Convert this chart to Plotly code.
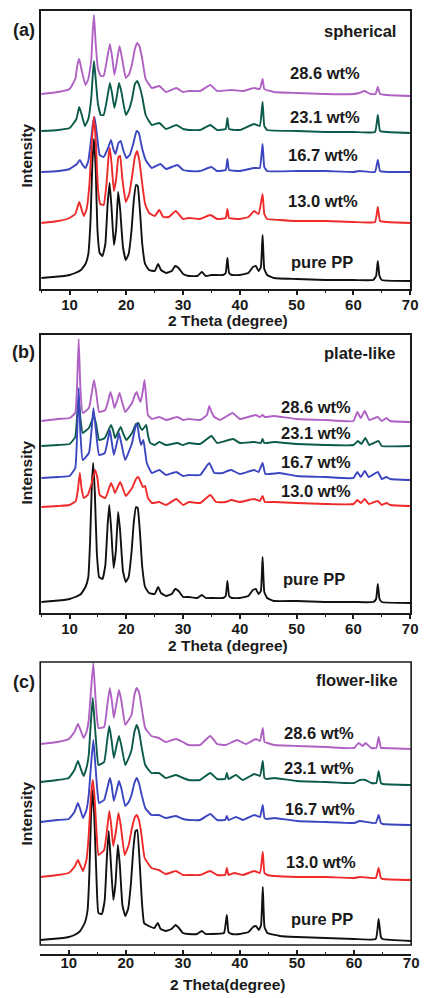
import plotly.graph_objects as go

# ---------------- data (2 theta in degree, intensity in arbitrary units, offsets included) ----------
LABELS = ["pure PP", "13.0 wt%", "16.7 wt%", "23.1 wt%", "28.6 wt%"]
SHAPES = ["spherical", "plate-like", "flower-like"]
PANEL_TAGS = ["(a)", "(b)", "(c)"]
X_TICKS = [10, 20, 30, 40, 50, 60, 70]
COLORS = ["#111111", "#ee2a2a", "#3c46c0", "#0b5a4a", "#b062c4"]

# ---- (a) spherical
A_PURE = [(5,11),(7,12),(9,13),(10,14),(11,16),(12,19),(12.8,25),(13.3,35),(13.7,70),(14.0,125),(14.3,150),(14.6,120),(14.9,60),(15.3,36),(15.8,33),(16.3,45),(16.7,85),(17.05,106),(17.4,80),(17.8,44),(18.2,60),(18.55,97),(18.9,80),(19.4,42),(19.9,29),(20.4,35),(20.9,58),(21.3,88),(21.7,104),(22.0,103),(22.4,78),(22.8,45),(23.3,25),(24.0,19),(25.0,18),(25.6,25),(26.1,19),(27.0,16),(28.0,18),(28.6,23),(29.2,21),(30,15),(31,13),(32.5,13),(33.3,17),(34,13),(35,14),(37,14),(37.5,16),(37.8,31),(38.1,16),(38.6,14),(40,14),(41.5,16),(42.3,22),(42.8,23),(43.3,18),(43.7,22),(44.0,54),(44.3,20),(44.8,14),(46,11),(50,10),(55,9),(60,9),(63.5,9),(64.0,13),(64.3,28),(64.6,13),(65,9),(70,8)]
A_130 = [(5,66),(8,68),(10,71),(11.0,75),(11.4,82),(11.7,87),(12.0,82),(12.5,73),(13.0,80),(13.5,105),(13.9,145),(14.25,172),(14.6,150),(15.0,100),(15.4,85),(16.0,84),(16.5,105),(16.9,135),(17.1,141),(17.4,125),(17.8,98),(18.2,110),(18.6,132),(18.9,133),(19.3,110),(19.9,87),(20.5,95),(21.0,112),(21.5,132),(21.9,138),(22.3,128),(22.8,105),(23.3,85),(24,76),(25,73),(25.8,79),(26.5,72),(27.5,72),(28.7,78),(29.5,73),(30,70),(31,71),(33,70),(34.8,74),(36,70),(37.5,71),(37.8,80),(38.1,71),(40,70),(41.5,72),(42.5,78),(43.3,75),(44.0,95),(44.3,75),(44.8,70),(47,69),(50,68),(55,68),(60,67),(63.8,67),(64.3,82),(64.7,68),(66,67),(70,66)]
A_167 = [(5,117),(8,118),(10,120),(11.3,125),(11.8,129),(12.3,124),(12.8,121),(13.3,128),(13.8,150),(14.1,165),(14.4,172),(14.8,155),(15.3,134),(16.0,132),(16.7,140),(17.3,149),(17.7,140),(18.1,135),(18.6,146),(19.0,148),(19.5,138),(20.0,131),(20.6,134),(21.2,145),(21.8,158),(22.2,156),(22.8,140),(23.5,128),(24.5,121),(26.0,125),(27.0,120),(29.0,124),(30,119),(31,118),(33,118),(35,122),(36,118),(37.5,119),(37.8,130),(38.1,119),(40,118),(42.5,121),(43.5,121),(44.0,145),(44.3,122),(44.8,118),(50,118),(55,118),(60,117),(61,118),(63.8,117),(64.3,129),(64.7,118),(66,117),(70,117)]
A_231 = [(5,158),(8,159),(10,161),(11.2,170),(11.7,182),(12.1,175),(12.7,163),(13.3,170),(13.8,190),(14.1,215),(14.3,228),(14.6,210),(15.0,185),(15.5,174),(16.0,174),(16.6,190),(17.1,206),(17.5,195),(17.9,181),(18.3,192),(18.7,206),(19.1,198),(19.9,174),(20.5,180),(21.0,190),(21.5,205),(21.9,208),(22.3,203),(22.8,192),(23.4,174),(24.5,164),(25.8,166),(27,160),(28.8,164),(30,160),(31,159),(33,159),(34.8,164),(36,159),(37.5,160),(37.8,171),(38.1,160),(40,159),(42.5,165),(43.5,163),(44.0,187),(44.3,163),(44.8,159),(50,158),(55,157),(60,157),(63.8,157),(64.3,174),(64.7,158),(66,157),(70,156)]
A_286 = [(5,195),(8,197),(10,200),(11.0,210),(11.4,225),(11.7,230),(12.0,222),(12.8,204),(13.3,210),(13.8,228),(14.1,260),(14.3,274),(14.6,245),(15.0,220),(15.5,213),(16.0,213),(16.6,230),(17.1,245),(17.5,232),(17.9,214),(18.4,230),(18.8,243),(19.2,232),(19.9,211),(20.5,215),(21.0,225),(21.5,240),(21.9,246),(22.3,243),(22.8,230),(23.4,210),(24.5,201),(25.8,203),(27,197),(28.8,201),(30,197),(31,198),(33,198),(34.8,204),(36,198),(38.5,199),(40.5,198),(42.5,201),(43.5,200),(44.0,210),(44.3,200),(46,197),(50,196),(55,195),(60,195),(61,196),(62,198),(63,195),(63.9,195),(64.3,202),(64.7,195),(66,194),(70,193)]

# ---- (b) plate-like
B_PURE = [(5,11),(7,12),(9,13),(10,14),(11,16),(12,19),(12.8,26),(13.3,36),(13.6,70),(13.9,125),(14.15,150),(14.45,120),(14.8,60),(15.2,36),(15.8,34),(16.3,48),(16.7,88),(17.0,108),(17.35,82),(17.75,45),(18.15,62),(18.55,101),(18.9,82),(19.4,42),(19.9,31),(20.4,36),(20.9,60),(21.3,90),(21.7,106),(22.0,105),(22.4,80),(22.8,46),(23.3,26),(24,20),(25,19),(25.6,26),(26.1,20),(27,17),(28,19),(28.6,24),(29.2,22),(30,16),(31,16),(32.5,15),(33.3,18),(34,15),(35,15),(37,15),(37.5,17),(37.8,32),(38.1,17),(38.6,15),(40,15),(41.5,17),(42.3,23),(42.8,24),(43.3,19),(43.7,22),(44.0,56),(44.3,21),(44.8,15),(46,12),(50,12),(55,11),(60,11),(63.5,11),(64.0,14),(64.3,29),(64.6,14),(65,11),(70,10)]
B_130 = [(5,106),(8,107),(10,108),(11.1,112),(11.5,125),(11.8,140),(12.1,125),(12.5,115),(13.2,118),(13.8,128),(14.5,143),(14.9,135),(15.3,118),(16.3,115),(17.3,130),(17.7,125),(18.0,120),(18.9,131),(19.3,126),(19.9,117),(21.0,125),(21.7,134),(22.1,136),(22.6,130),(22.9,126),(23.3,127),(23.8,115),(24.5,110),(25.8,111),(27,108),(28.8,114),(30,108),(31,111),(33,110),(34.8,118),(35.8,111),(37.5,111),(38.5,113),(40,111),(42.5,114),(43.5,112),(44.0,117),(44.4,111),(46,111),(50,110),(55,109),(60,109),(60.7,113),(61.3,110),(62.0,114),(62.7,109),(64.3,112),(65,108),(65.8,110),(66.5,108),(70,107)]
B_167 = [(5,135),(8,136),(10,137),(11.0,145),(11.3,175),(11.6,225),(11.9,180),(12.3,153),(13.4,160),(13.9,185),(14.2,205),(14.6,185),(15.2,158),(16.2,160),(16.8,175),(17.1,183),(17.4,172),(17.8,158),(18.4,172),(18.7,180),(19.1,170),(19.8,153),(21.0,170),(21.6,186),(21.9,189),(22.3,175),(22.6,168),(23.0,173),(23.3,162),(23.6,150),(24.5,140),(25.8,143),(27,138),(28.8,141),(30,137),(31,138),(33,138),(34.6,150),(35.5,140),(37,140),(37.8,142),(38.5,143),(40,139),(42.5,143),(43.3,141),(44.0,150),(44.5,139),(47,140),(50,137),(55,136),(60,135),(60.7,141),(61.3,136),(62.0,142),(62.7,136),(64.3,141),(65,134),(65.8,136),(66.5,134),(70,133)]
B_231 = [(5,167),(8,168),(10,169),(11.0,176),(11.3,195),(11.6,215),(11.9,195),(12.3,180),(13.4,185),(13.9,192),(14.3,197),(14.7,188),(15.2,173),(16.2,175),(17.3,188),(17.7,182),(18.0,175),(19.0,186),(19.4,180),(20,173),(21.0,180),(21.7,189),(22.1,190),(22.5,185),(22.8,183),(23.5,188),(23.8,178),(24.2,170),(25,168),(25.8,171),(27,168),(29,170),(30,168),(31,170),(33,169),(35,177),(36,170),(38.8,174),(40,170),(42.5,171),(43.7,170),(44.0,174),(44.3,170),(46,171),(50,169),(55,168),(60,168),(60.8,172),(61.4,169),(62.1,175),(62.8,168),(64.4,172),(65,167),(70,167)]
B_286 = [(5,192),(8,194),(10,195),(11.0,200),(11.3,225),(11.6,274),(11.9,225),(12.3,200),(13.4,205),(13.9,220),(14.3,233),(14.7,220),(15.2,201),(16.3,203),(16.8,212),(17.2,221),(17.6,213),(17.9,205),(18.4,213),(18.8,220),(19.2,212),(19.8,201),(21.0,210),(21.5,218),(21.8,221),(22.2,215),(22.5,211),(22.9,222),(23.2,233),(23.5,215),(23.8,198),(24.5,194),(25.8,196),(27,193),(29,196),(30,193),(31,194),(33,193),(34.2,198),(34.6,207),(35.0,201),(35.5,196),(36.5,193),(38.7,200),(40,194),(42.8,198),(43.5,196),(44.0,198),(44.4,196),(46,197),(50,194),(55,193),(60,192),(60.7,201),(61.3,195),(62.0,202),(62.8,193),(64.3,196),(65,192),(65.8,195),(66.5,192),(70,191)]

# ---- (c) flower-like
C_PURE = [(5,5),(7,6),(9,7),(10,8),(11,10),(12,14),(12.8,22),(13.3,35),(13.6,70),(13.9,130),(14.2,155),(14.5,125),(14.9,60),(15.2,32),(15.8,31),(16.3,45),(16.7,90),(17.0,114),(17.35,85),(17.8,45),(18.2,62),(18.6,100),(18.95,80),(19.4,40),(19.9,29),(20.4,36),(20.9,62),(21.3,95),(21.7,114),(22.0,115),(22.4,85),(22.8,45),(23.2,22),(24,19),(25,17),(25.6,22),(26.1,16),(27,14),(28,16),(28.7,20),(29.3,17),(30,12),(31,11),(32.5,11),(33.3,14),(34,11),(35,11),(37.2,12),(37.7,30),(38.0,13),(38.6,11),(40,11),(41.5,13),(42.3,18),(42.8,19),(43.3,15),(43.7,20),(44.0,58),(44.3,18),(44.8,12),(47,9),(50,8),(55,7),(60,6),(63.8,6),(64.3,26),(64.7,8),(65,6),(70,4)]
C_130 = [(5,68),(8,70),(10,72),(11.0,78),(11.6,85),(12.0,80),(12.5,74),(13.1,85),(13.5,110),(13.9,150),(14.2,165),(14.5,150),(14.9,110),(15.2,90),(16.2,95),(16.7,115),(17.1,134),(17.4,122),(17.8,99),(18.3,115),(18.7,132),(19.1,120),(19.8,90),(20.5,100),(21.0,115),(21.6,128),(21.9,130),(22.3,125),(22.7,112),(23.3,87),(24.5,77),(25.8,75),(27,71),(28.8,74),(30,70),(31,70),(33,70),(34.8,74),(36,70),(37.4,70),(37.7,77),(38.0,70),(39,72),(40.5,70),(42.5,74),(43.5,72),(44.0,93),(44.3,72),(44.8,70),(46,69),(50,68),(55,68),(60,67),(61,68),(63.8,67),(64.3,77),(64.7,67),(65,66),(70,65)]
C_167 = [(5,123),(8,125),(10,126),(11.0,133),(11.6,142),(12.0,136),(12.5,127),(13.1,135),(13.5,150),(13.9,180),(14.3,205),(14.6,185),(15.0,155),(15.3,142),(16.2,145),(16.8,158),(17.2,167),(17.5,160),(17.9,144),(18.4,155),(18.8,164),(19.2,157),(19.9,139),(20.5,143),(21.0,150),(21.5,162),(21.9,167),(22.3,162),(22.7,152),(23.4,137),(24.5,130),(25.8,130),(27,127),(28.8,129),(30,126),(31,125),(33,125),(34.8,131),(36,125),(37.4,125),(37.7,129),(38.0,125),(39.3,128),(40.5,125),(42.5,130),(43.5,128),(44.0,140),(44.3,127),(44.8,126),(46,127),(50,124),(55,123),(60,122),(61,124),(63.8,122),(64.3,130),(64.7,122),(65,121),(70,120)]
C_231 = [(5,163),(8,165),(10,167),(11.0,175),(11.6,184),(12.0,178),(12.6,169),(13.1,177),(13.5,190),(13.9,225),(14.2,247),(14.5,225),(14.9,195),(15.2,180),(16.2,183),(16.7,203),(17.1,219),(17.5,205),(17.9,187),(18.4,200),(18.8,209),(19.2,200),(19.9,180),(20.5,187),(21.0,195),(21.5,213),(21.9,220),(22.3,214),(22.7,200),(23.4,180),(24.5,172),(25.8,172),(27,167),(28.8,170),(30,167),(31,165),(33,165),(34.8,172),(36,166),(37.4,166),(37.7,172),(38.0,166),(39.3,170),(40.5,165),(42.5,171),(43.5,169),(44.0,184),(44.3,167),(44.8,166),(46,167),(50,164),(55,163),(60,162),(61,165),(62,165),(63,162),(63.9,162),(64.3,174),(64.7,162),(65,161),(70,160)]
C_286 = [(5,201),(8,203),(10,206),(11.0,213),(11.6,221),(12.0,216),(12.6,207),(13.1,213),(13.5,225),(13.9,255),(14.3,282),(14.6,255),(14.9,230),(15.2,217),(16.2,218),(16.8,242),(17.2,257),(17.6,242),(17.9,227),(18.4,243),(18.8,255),(19.2,245),(19.9,220),(20.5,225),(21.0,230),(21.5,250),(21.9,257),(22.3,253),(22.7,240),(23.4,217),(24.5,209),(25.8,207),(27,203),(28.8,206),(30,203),(31,200),(33,200),(34.8,209),(36,201),(37.5,200),(39.5,205),(41,201),(42.8,206),(43.5,204),(44.0,217),(44.3,203),(44.8,202),(46,200),(50,199),(55,198),(60,197),(60.8,202),(61.5,199),(62,202),(63,197),(63.9,197),(64.3,208),(64.7,197),(65,197),(70,196)]

PANEL_DATA = [
    [A_PURE, A_130, A_167, A_231, A_286],
    [B_PURE, B_130, B_167, B_231, B_286],
    [C_PURE, C_130, C_167, C_231, C_286],
]

# ---------------- layout helpers (pixel geometry of the 427x998 page) ----------------
W, H = 427, 998
def fx(p):
    return p / W
def fy(p):
    return 1 - p / H

FONT = "Liberation Sans, Arial, sans-serif"
INK = "#1a1a1a"

GEOM = [
    dict(top=11, bottom=289, axis=289, left=42, right=418, yr=[0, 278], standoff=-3),
    dict(top=335, bottom=613, axis=613, left=42, right=418, yr=[0, 278], standoff=-3),
    dict(top=662, bottom=945, axis=954, left=41, right=419, yr=[-9, 283], standoff=-6),
]
TITLE_Y = [321, 645, 984]
XTITLES = ["2 Theta (degree)", "2 Theta (degree)", "2 Theta(degree)"]
YTITLE_Y = [155, 472, 813]
TAG_Y = [30, 352, 682]
SHAPE_POS = [(367, 31), (367, 353), (364, 680)]
LABEL_POS = [
    [(328, 262), (329, 201), (329, 155), (331, 117), (331, 73)],
    [(320, 579), (322, 491), (322, 462), (322, 433), (322, 407)],
    [(328, 919), (327, 862), (326, 809), (325, 768), (325, 733)],
]

fig = go.Figure()
draw_order = [0, 4, 3, 2, 1]
for p, curves in enumerate(PANEL_DATA):
    xa = "x" if p == 0 else f"x{p+1}"
    ya = "y" if p == 0 else f"y{p+1}"
    for i in draw_order:
        pts = curves[i]
        fig.add_trace(go.Scatter(
            x=[q[0] for q in pts], y=[q[1] for q in pts],
            mode="lines", line=dict(color=COLORS[i], width=1.9, shape="spline", smoothing=0.35),
            xaxis=xa, yaxis=ya, showlegend=False, hoverinfo="skip"))

annotations = []
shapes = []
for p, g in enumerate(GEOM):
    sfx = "" if p == 0 else str(p + 1)
    boxed = p < 2
    fig.layout[f"xaxis{sfx}"] = dict(
        domain=[fx(g["left"]), fx(g["right"])], range=[5, 70],
        anchor=f"y{sfx}", tickmode="array", tickvals=X_TICKS,
        ticks="outside" if boxed else "inside", ticklen=4, tickwidth=1.5, tickcolor=INK,
        ticklabelstandoff=g["standoff"],
        minor=dict(dtick=5, tick0=5, ticks="outside" if boxed else "inside", ticklen=2.5, tickwidth=1.3, tickcolor=INK),
        showline=True, linecolor=INK, linewidth=1.6, mirror=boxed,
        showgrid=False, zeroline=False,
        tickfont=dict(family=FONT, size=15, color=INK, weight="bold"),
    )
    fig.layout[f"yaxis{sfx}"] = dict(
        domain=[fy(g["axis"]), fy(g["top"])], range=g["yr"],
        anchor=f"x{sfx}", showticklabels=False, ticks="",
        showline=boxed, linecolor=INK, linewidth=1.6, mirror=boxed,
        showgrid=False, zeroline=False,
    )
    if not boxed:
        shapes.append(dict(type="rect", xref=f"x{sfx} domain", yref="paper",
                           x0=0, x1=1, y0=fy(g["bottom"]), y1=fy(g["top"]),
                           line=dict(color=INK, width=1.6), fillcolor="rgba(0,0,0,0)"))
    cx = (g["left"] + g["right"]) / 2 + 2
    annotations.append(dict(text=XTITLES[p], x=fx(cx), y=fy(TITLE_Y[p]), xref="paper", yref="paper",
                            showarrow=False, xanchor="center", yanchor="middle",
                            font=dict(family=FONT, size=15.5, color=INK, weight="bold")))
    annotations.append(dict(text="Intensity", x=fx(27), y=fy(YTITLE_Y[p]), xref="paper", yref="paper",
                            showarrow=False, textangle=-90, xanchor="center", yanchor="middle",
                            font=dict(family=FONT, size=15.5, color=INK, weight="bold")))
    annotations.append(dict(text=PANEL_TAGS[p], x=fx(24), y=fy(TAG_Y[p]), xref="paper", yref="paper",
                            showarrow=False, xanchor="center", yanchor="middle",
                            font=dict(family=FONT, size=18, color=INK, weight="bold")))
    sx, sy = SHAPE_POS[p]
    annotations.append(dict(text=SHAPES[p], x=fx(sx), y=fy(sy), xref="paper", yref="paper",
                            showarrow=False, xanchor="center", yanchor="middle",
                            font=dict(family=FONT, size=16.5, color=INK, weight="bold")))
    for i, lab in enumerate(LABELS):
        lx, ly = LABEL_POS[p][i]
        annotations.append(dict(text=lab, x=fx(lx), y=fy(ly), xref="paper", yref="paper",
                                showarrow=False, xanchor="center", yanchor="middle",
                                font=dict(family=FONT, size=16.5, color=INK, weight="bold")))

fig.update_layout(
    width=W, height=H, margin=dict(l=0, r=0, t=0, b=0),
    paper_bgcolor="white", plot_bgcolor="white",
    annotations=annotations, shapes=shapes,
)
fig.write_html("out.html", config={"displayModeBar": False},
               post_script="document.body.style.margin='0px';document.body.style.padding='0px';")
